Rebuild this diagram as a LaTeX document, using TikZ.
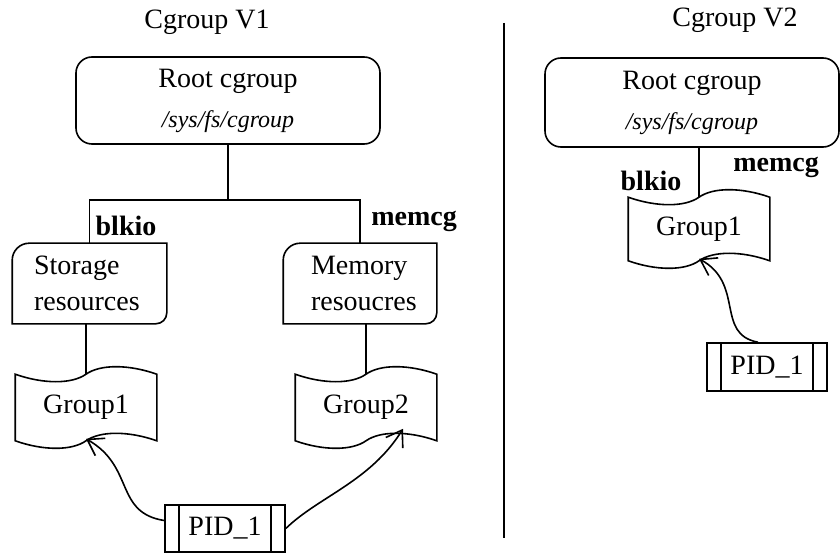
\documentclass[tikz,border=0pt]{standalone}
\usepackage{fontspec}
\setmainfont{Liberation Serif}
\usetikzlibrary{arrows.meta,calc}
\newcommand\tapepath[1]{%
 \draw[line width=1.6pt] let \p1=(#1.north west), \p2=(#1.south east) in
 (\x1,\y1) .. controls ({\x1+0.2*(\x2-\x1)},{\y1-10pt}) and ({\x1+0.4*(\x2-\x1)},{\y1-10pt}) .. ({\x1+0.5*(\x2-\x1)},\y1)
 .. controls ({\x1+0.6*(\x2-\x1)},{\y1+10pt}) and ({\x1+0.8*(\x2-\x1)},{\y1+10pt}) .. (\x2,\y1)
 -- (\x2,\y2)
 .. controls ({\x1+0.8*(\x2-\x1)},{\y2+10pt}) and ({\x1+0.6*(\x2-\x1)},{\y2+10pt}) .. ({\x1+0.5*(\x2-\x1)},\y2)
 .. controls ({\x1+0.4*(\x2-\x1)},{\y2-10pt}) and ({\x1+0.2*(\x2-\x1)},{\y2-10pt}) .. (\x1,\y2) -- cycle;}
\newcommand\diagpath[3]{%
 \draw[line width=1.6pt] let \p1=(#1.north west), \p2=(#1.south east) in
 (\x1,\y2) -- (\x1,{\y1-#2}) .. controls (\x1,{\y1-0.448*#2}) and ({\x1+0.448*#2},\y1) .. ({\x1+#2},\y1)
 -- (\x2,\y1) -- (\x2,{\y2+#3}) .. controls (\x2,{\y2+0.448*#3}) and ({\x2-0.448*#3},\y2) .. ({\x2-#3},\y2) -- cycle;}
\begin{document}
\begin{tikzpicture}[x=1pt,y=-1pt,
  every node/.style={font=\fontsize{28}{36}\selectfont},
  line width=1.6pt,
  rootbox/.style={draw,rounded corners=16pt,align=center,inner sep=0pt,minimum height=87pt},
  diagnode/.style={inner xsep=0pt,inner ysep=0pt,align=left,minimum height=79pt},
  tapenode/.style={inner sep=0pt,minimum height=65pt},
  pidbox/.style={draw,inner sep=0pt,minimum width=120pt,minimum height=47pt},
  lbl/.style={font=\fontsize{28}{36}\selectfont\bfseries},
  arr/.style={-{Straight Barb[length=15pt,width=20pt]}}]
\useasboundingbox (0,0) rectangle (840,553);
% titles
\node[anchor=base] (t1) at (207,29) {Cgroup V1};
\node[anchor=base] (t2) at (735,27) {Cgroup V2};
% divider
\coordinate (d1) at (504,23);
\coordinate (d2) at (504,538);
\draw (d1) -- (d2);
% ---------- V1
\node[rootbox,minimum width=304pt] (r1) at (228,100.5)
  {Root cgroup\\[4pt]{\fontsize{24}{36}\selectfont\itshape /sys/fs/cgroup}};
\node[diagnode,text width=153pt] (s) at (89.5,283.5)
  {\hspace*{21pt}Storage\\\hspace*{21pt}resources};
\node[diagnode,text width=152pt] (m) at (360,283.5)
  {\hspace*{27pt}Memory\\\hspace*{27pt}resoucres};
\diagpath{s}{17pt}{11pt}
\diagpath{m}{17pt}{11pt}
\coordinate (j) at (228,200);
\draw (r1.south) -- (j);
\draw (s.north) |- (j) -| (m.north);
\node[lbl] (b1) at (126,226) {blkio};
\node[lbl] (mc1) at (414,221) {memcg};
\node[tapenode,minimum width=140pt] (g1) at (86,407.5) {Group1};
\node[tapenode,minimum width=140pt] (g2) at (366,407.5) {Group2};
\tapepath{g1}
\tapepath{g2}
\draw (g1.north |- s.south) -- (g1.north);
\draw (g2.north |- m.south) -- (g2.north);
\node[pidbox] (p1) at (225,528.5) {PID\_1};
\draw ([xshift=15pt]p1.north west) -- ([xshift=15pt]p1.south west);
\draw ([xshift=-15pt]p1.north east) -- ([xshift=-15pt]p1.south east);
\draw[arr] ([yshift=8pt]p1.west) .. controls +(-50,-8) and +(49,28) .. ([yshift=2pt]g1.south);
\draw[arr] (p1.east) .. controls +(33,-32) and +(-33,53) .. ([xshift=37pt,yshift=12pt]g2.south);
% ---------- V2
\node[rootbox,minimum width=294pt,minimum height=89pt] (r2) at (692,102.5)
  {Root cgroup\\[4pt]{\fontsize{24}{36}\selectfont\itshape /sys/fs/cgroup}};
\node[tapenode,minimum width=140pt,minimum height=62pt] (g3) at (699,229) {Group1};
\tapepath{g3}
\draw (g3.north |- r2.south) -- (g3.north);
\node[lbl] (b2) at (651,181) {blkio};
\node[lbl] (mc2) at (776,167) {memcg};
\node[pidbox,minimum height=48pt] (p2) at (767,367) {PID\_1};
\draw ([xshift=15pt]p2.north west) -- ([xshift=15pt]p2.south west);
\draw ([xshift=-15pt]p2.north east) -- ([xshift=-15pt]p2.south east);
\draw[arr] ([xshift=-9pt]p2.north) .. controls +(-43,-8) and +(46,25) .. ([yshift=2pt]g3.south);
\end{tikzpicture}
\end{document}
